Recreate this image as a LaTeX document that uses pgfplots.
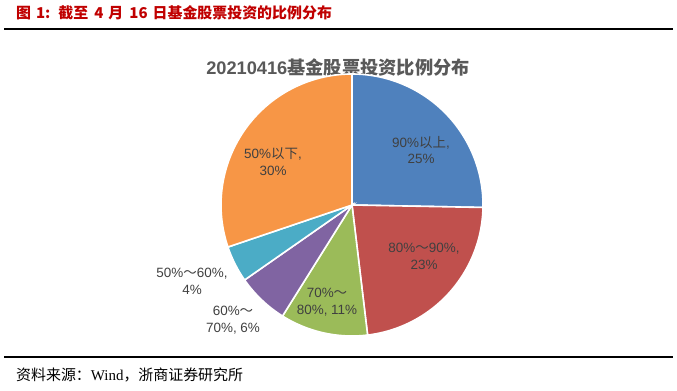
\documentclass[border=0pt]{standalone}
\usepackage{pgfplots}
\pgfplotsset{compat=1.18}
\usepackage{fontspec}
\setmainfont{Liberation Sans}
\newfontfamily\cjk{Noto Sans CJK SC}
\newfontfamily\serif{Liberation Serif}
\definecolor{cblue}{HTML}{4F81BD}
\definecolor{cred}{HTML}{C0504D}
\definecolor{cgreen}{HTML}{9BBB59}
\definecolor{cpurple}{HTML}{8064A2}
\definecolor{ccyan}{HTML}{4BACC6}
\definecolor{corange}{HTML}{F79646}
\definecolor{titlered}{HTML}{C00000}
\definecolor{lab}{HTML}{404040}
\definecolor{ttl}{HTML}{595959}
% shares (percent), clockwise from the top
\def\vA{25.3}\def\vB{22.8}\def\vC{10.8}\def\vD{6.4}\def\vE{4.5}\def\vF{30.2}
\pgfmathsetmacro\aA{90}
\pgfmathsetmacro\aB{\aA-3.6*\vA}
\pgfmathsetmacro\aC{\aB-3.6*\vB}
\pgfmathsetmacro\aD{\aC-3.6*\vC}
\pgfmathsetmacro\aE{\aD-3.6*\vD}
\pgfmathsetmacro\aF{\aE-3.6*\vE}
\pgfmathsetmacro\aG{\aF-3.6*\vF}
\begin{document}
\begin{tikzpicture}[x=1bp,y=1bp]
\path (0,0) rectangle (677,390);
\draw[line width=1.2bp] (4,361) -- (673,361);
\draw[line width=1.2bp] (4,33) -- (673,33);
\node[anchor=west, text=titlered, font=\cjk\bfseries\fontsize{15}{15}\selectfont, inner sep=0pt] at (16,377) {图\hspace{5bp}1:\hspace{8bp}截至\hspace{6bp}4\hspace{5bp}月\hspace{6bp}16\hspace{5bp}日基金股票投资的比例分布};
\node[text=ttl, font=\bfseries\fontsize{18.3}{18.3}\selectfont, inner sep=0pt] at (338,323) {20210416{\cjk\bfseries 基金股票投资比例分布}};
\node[anchor=west, font=\fontsize{15}{15}\selectfont, inner sep=0pt] at (16,15) {{\cjk 资料来源：}{\serif Wind}{\cjk ，浙商证券研究所}};
\begin{axis}[at={(352bp,185bp)}, anchor=center, width=262bp, height=262bp, scale only axis,
  xmin=-1, xmax=1, ymin=-1, ymax=1, hide axis, clip=false]
\addplot[fill=cblue, draw=white, line width=1.6bp, domain=\aB:\aA, samples=60, variable=\t] ({cos(\t)},{sin(\t)}) -- (axis cs:0,0) -- cycle;
\addplot[fill=cred, draw=white, line width=1.6bp, domain=\aC:\aB, samples=60, variable=\t] ({cos(\t)},{sin(\t)}) -- (axis cs:0,0) -- cycle;
\addplot[fill=cgreen, draw=white, line width=1.6bp, domain=\aD:\aC, samples=40, variable=\t] ({cos(\t)},{sin(\t)}) -- (axis cs:0,0) -- cycle;
\addplot[fill=cpurple, draw=white, line width=1.6bp, domain=\aE:\aD, samples=30, variable=\t] ({cos(\t)},{sin(\t)}) -- (axis cs:0,0) -- cycle;
\addplot[fill=ccyan, draw=white, line width=1.6bp, domain=\aF:\aE, samples=20, variable=\t] ({cos(\t)},{sin(\t)}) -- (axis cs:0,0) -- cycle;
\addplot[fill=corange, draw=white, line width=1.6bp, domain=\aG:\aF, samples=80, variable=\t] ({cos(\t)},{sin(\t)}) -- (axis cs:0,0) -- cycle;
\end{axis}
\begin{scope}[every node/.style={text=lab, align=center, font=\fontsize{13.5}{17}\selectfont, inner sep=0pt}]
\node at (421,240) {90\%{\cjk 以上},\\25\%};
\node at (424,133.5) {80\%{\cjk ～}90\%,\\23\%};
\node at (273,228.5) {50\%{\cjk 以下},\\30\%};
\node at (327,87.5) {70\%{\cjk ～}\\80\%, 11\%};
\node at (233,69.5) {60\%{\cjk ～}\\70\%, 6\%};
\node at (192,108.5) {50\%{\cjk ～}60\%,\\4\%};
\end{scope}
\end{tikzpicture}
\end{document}
